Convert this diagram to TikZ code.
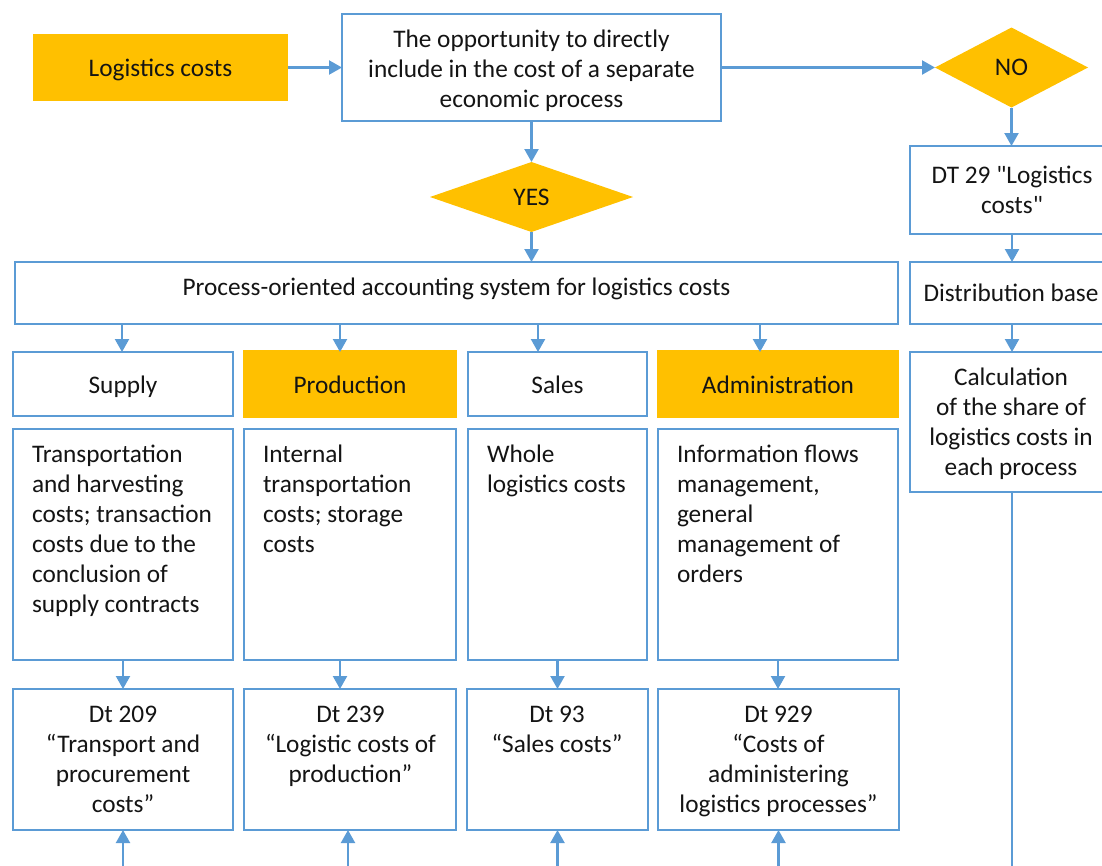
\documentclass[tikz,border=0pt]{standalone}
\usepackage{fontspec}
\setmainfont{Carlito}[Ligatures=TeXOff]
\usetikzlibrary{arrows.meta,shapes.geometric}
\definecolor{bordblue}{HTML}{5B9BD5}
\definecolor{gold}{HTML}{FFC000}
\begin{document}
\begin{tikzpicture}[x=1pt,y=1pt,
  every node/.style={inner sep=0pt, outer sep=0pt, font=\fontsize{25.3}{30}\selectfont, text=black!92},
  obox/.style={draw=bordblue, line width=2.2pt, fill=white},
  fbox/.style={fill=gold},
  arr/.style={draw=bordblue, line width=2.2pt, -{Triangle[length=13pt,width=14pt]}},
  plainline/.style={draw=bordblue, line width=2.2pt},
  dia/.style={diamond, fill=gold, inner sep=0pt},
  lbl/.style={anchor=base}
]
\useasboundingbox (0,0) rectangle (1102,-865);
\begin{scope}
\clip (0,0) rectangle (1102,-865);
\coordinate (bottom) at (0,-875);
% boxes
\node[fbox, minimum width=255pt, minimum height=67pt] (logi) at (160.5,-67.5) {};
\node[obox, minimum width=379pt, minimum height=107pt] (opp) at (531.5,-67.5) {};
\node[dia, minimum width=153pt, minimum height=80pt] (no) at (1011.5,-67.5) {NO};
\node[dia, minimum width=203pt, minimum height=70pt] (yes) at (531.5,-197) {YES};
\node[obox, minimum width=204pt, minimum height=88pt] (dt29) at (1012,-190) {};
\node[obox, minimum width=204pt, minimum height=62pt] (dist) at (1012,-293) {};
\node[obox, minimum width=204pt, minimum height=140pt] (calc) at (1012,-422) {};
\node[obox, minimum width=883pt, minimum height=62pt] (proc) at (456.5,-293) {};
\node[obox, minimum width=220pt, minimum height=64pt] (sup) at (123,-384) {};
\node[fbox, minimum width=214pt, minimum height=68pt] (prod) at (350,-384) {};
\node[obox, minimum width=179pt, minimum height=64pt] (sal) at (557.5,-384) {};
\node[fbox, minimum width=242pt, minimum height=68pt] (adm) at (778,-384) {};
\node[obox, minimum width=220pt, minimum height=231pt] (d1) at (123,-544.5) {};
\node[obox, minimum width=212pt, minimum height=231pt] (d2) at (350,-544.5) {};
\node[obox, minimum width=179pt, minimum height=231pt] (d3) at (557.5,-544.5) {};
\node[obox, minimum width=240pt, minimum height=231pt] (d4) at (778,-544.5) {};
\node[obox, minimum width=220pt, minimum height=141pt] (t1) at (123,-759.5) {};
\node[obox, minimum width=212pt, minimum height=141pt] (t2) at (350,-759.5) {};
\node[obox, minimum width=181pt, minimum height=141pt] (t3) at (557.5,-759.5) {};
\node[obox, minimum width=241pt, minimum height=141pt] (t4) at (778.5,-759.5) {};
% texts
\node[lbl] (tlogi) at (160.5,-76) {Logistics costs};
\node[lbl] (topp) at (531.5,-47) {\parbox[t]{400pt}{\centering The opportunity to directly\\include in the cost of a separate\\economic process}};
\node[lbl] (tdt29) at (1012,-183) {\parbox[t]{260pt}{\centering DT 29 "Logistics\\costs"}};
\node[lbl] (tdist) at (1011,-301) {Distribution base};
\node[lbl] (tcalc) at (1011,-385) {\parbox[t]{260pt}{\centering Calculation\\of the share of\\logistics costs in\\each process}};
\node[lbl] (tproc) at (456.5,-295) {Process-oriented accounting system for logistics costs};
\node[lbl] (tsup) at (123,-393) {Supply};
\node[lbl] (tprod) at (350,-393) {Production};
\node[lbl] (tsal) at (557.5,-393) {Sales};
\node[lbl] (tadm) at (778,-393) {Administration};
\node[anchor=base west] (td1) at (32,-462) {\parbox[t]{220pt}{\raggedright Transportation\\and harvesting\\costs; transaction\\costs due to the\\conclusion of\\supply contracts}};
\node[anchor=base west] (td2) at (263,-462) {\parbox[t]{220pt}{\raggedright Internal\\transportation\\costs; storage\\costs}};
\node[anchor=base west] (td3) at (487,-462) {\parbox[t]{220pt}{\raggedright Whole\\logistics costs}};
\node[anchor=base west] (td4) at (677,-462) {\parbox[t]{240pt}{\raggedright Information flows\\management,\\general\\management of\\orders}};
\node[lbl] (tt1) at (123,-722) {\parbox[t]{260pt}{\centering Dt 209\\“Transport and\\procurement\\costs”}};
\node[lbl] (tt2) at (350.5,-722) {\parbox[t]{260pt}{\centering Dt 239\\“Logistic costs of\\production”}};
\node[lbl] (tt3) at (557,-722) {\parbox[t]{260pt}{\centering Dt 93\\“Sales costs”}};
\node[lbl] (tt4) at (778.5,-722) {\parbox[t]{260pt}{\centering Dt 929\\“Costs of\\administering\\logistics processes”}};
% connectors
\draw[arr] (logi.east) -- (opp.west);
\draw[arr] (opp.east) -- (no.west);
\draw[arr] (opp.south) -- (yes.north);
\draw[arr] (yes.south) -- (yes.south |- proc.north);
\draw[arr] (no.south) -- (no.south |- dt29.north);
\draw[arr] (dt29.south) -- (dist.north);
\draw[arr] (dist.south) -- (calc.north);
\draw[plainline] (calc.south) -- (calc.south |- bottom);
\draw[arr] ([xshift=-1pt]sup.north |- proc.south) -- ([xshift=-1pt]sup.north);
\draw[arr] ([xshift=-10pt]prod.north |- proc.south) -- ([xshift=-10pt]prod.north |- sup.north);
\draw[arr] ([xshift=-19.5pt]sal.north |- proc.south) -- ([xshift=-19.5pt]sal.north);
\draw[arr] ([xshift=-18pt]adm.north |- proc.south) -- ([xshift=-18pt]adm.north |- sup.north);
\draw[arr] (d1.south) -- (t1.north);
\draw[arr] ([xshift=-10pt]d2.south) -- ([xshift=-10pt]t2.north);
\draw[arr] (d3.south) -- (t3.north);
\draw[arr] (d4.south) -- (d4.south |- t4.north);
\draw[arr] (t1.south |- bottom) -- (t1.south);
\draw[arr] ([xshift=-2pt]t2.south |- bottom) -- ([xshift=-2pt]t2.south);
\draw[arr] (t3.south |- bottom) -- (t3.south);
\draw[arr] (t4.south |- bottom) -- (t4.south);
\end{scope}
\end{tikzpicture}
\end{document}
